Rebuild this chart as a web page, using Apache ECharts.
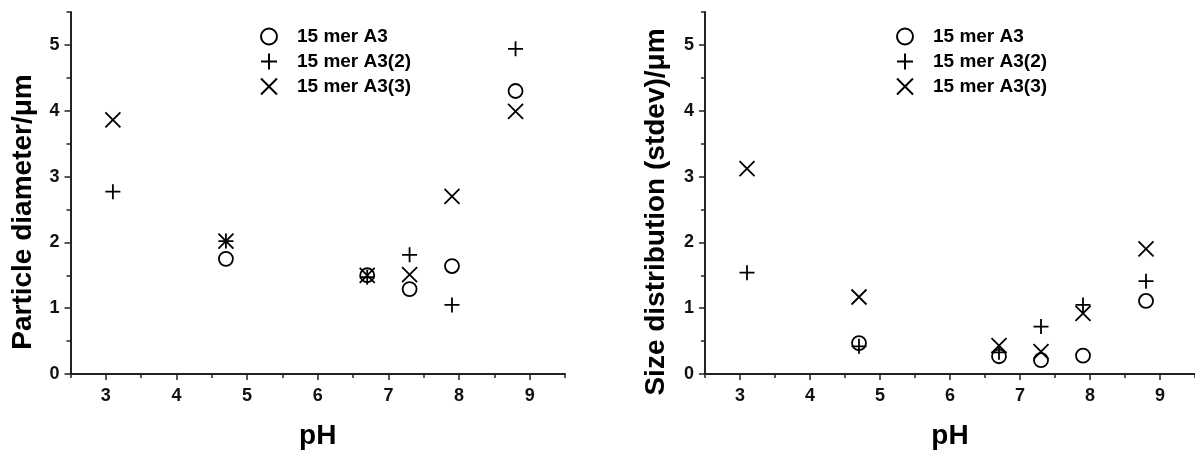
<!DOCTYPE html>
<html>
<head>
<meta charset="utf-8">
<script src="https://cdn.jsdelivr.net/npm/echarts@6/dist/echarts.min.js"></script>
<style>
html, body { margin: 0; padding: 0; background: #fff; }
#main { width: 1195px; height: 455px; }
</style>
</head>
<body>
<div id="main"></div>
<script>
var pH = [3.1, 4.7, 6.7, 7.3, 7.9, 8.8];
var seriesNames = ['15 mer A3', '15 mer A3(2)', '15 mer A3(3)'];

// particle diameter / um
var diamA3   = [null, 1.75, 1.50, 1.29, 1.64, 4.30];
var diamA3_2 = [2.77, 2.02, 1.47, 1.81, 1.05, 4.94];
var diamA3_3 = [3.86, 2.02, 1.50, 1.51, 2.70, 3.99];

// size distribution (stdev) / um
var sdA3   = [null, 0.47, 0.27, 0.21, 0.28, 1.11];
var sdA3_2 = [1.54, 0.42, 0.33, 0.72, 1.05, 1.41];
var sdA3_3 = [3.12, 1.17, 0.43, 0.34, 0.92, 1.90];

var xTicks = [3, 4, 5, 6, 7, 8, 9];
var xMinorTicks = [2.5, 3.5, 4.5, 5.5, 6.5, 7.5, 8.5, 9.5];
var yTicks = [0, 1, 2, 3, 4, 5];
var yMinorTicks = [0.5, 1.5, 2.5, 3.5, 4.5, 5.5];

var FONT = 'Liberation Sans, Arial, Helvetica, sans-serif';
var axisColor = '#222';
var symbols = ['circle', 'path://M0,50L100,50M50,0L50,100', 'path://M0,0L100,100M100,0L0,100'];
var symbolSizes = [14, 15, 15];

var myChart = echarts.init(document.getElementById('main'));

function pairs(ys) {
    var res = [];
    for (var i = 0; i < pH.length; i++) {
        if (ys[i] != null) res.push([pH[i], ys[i]]);
    }
    return res;
}

function xAxes(g) {
    return [{
        gridIndex: g, type: 'value', min: 2.5, max: 9.5, position: 'bottom',
        name: 'pH', nameLocation: 'middle', nameGap: 48,
        nameTextStyle: { fontFamily: FONT, fontWeight: 'bold', fontSize: 28, color: '#000' },
        axisLine: { show: true, onZero: false, lineStyle: { color: axisColor, width: 2 } },
        axisTick: { show: true, length: 6, customValues: xTicks, lineStyle: { color: axisColor, width: 1.5 } },
        axisLabel: { customValues: xTicks, margin: 13, fontFamily: FONT, fontWeight: 'bold', fontSize: 18, color: '#111' },
        splitLine: { show: false }
    }, {
        gridIndex: g, type: 'value', min: 2.5, max: 9.5, position: 'bottom',
        axisLine: { show: false },
        axisTick: { show: true, length: 4, customValues: xMinorTicks, lineStyle: { color: axisColor, width: 1.5 } },
        axisLabel: { show: false },
        splitLine: { show: false }
    }];
}

function yAxes(g) {
    return [{
        gridIndex: g, type: 'value', min: 0, max: 5.5, position: 'left',
        axisLine: { show: true, onZero: false, lineStyle: { color: axisColor, width: 2 } },
        axisTick: { show: true, length: 6, customValues: yTicks, lineStyle: { color: axisColor, width: 1.5 } },
        axisLabel: { customValues: yTicks, margin: 11, fontFamily: FONT, fontWeight: 'bold', fontSize: 18, color: '#111' },
        splitLine: { show: false }
    }, {
        gridIndex: g, type: 'value', min: 0, max: 5.5, position: 'left',
        axisLine: { show: false },
        axisTick: { show: true, length: 4, customValues: yMinorTicks, lineStyle: { color: axisColor, width: 1.5 } },
        axisLabel: { show: false },
        splitLine: { show: false }
    }];
}

function scatter(name, k, ys, axisIdx) {
    return {
        type: 'scatter', name: name,
        xAxisIndex: axisIdx, yAxisIndex: axisIdx,
        symbol: symbols[k], symbolSize: symbolSizes[k],
        itemStyle: { color: 'rgba(0,0,0,0)', borderColor: '#000', borderWidth: 1.8, opacity: 1 },
        emphasis: { disabled: true },
        data: pairs(ys)
    };
}

function legend(left) {
    return {
        orient: 'vertical', left: left, top: 22,
        itemWidth: 46, itemHeight: 16, itemGap: 6,
        symbolKeepAspect: true,
        selectedMode: false,
        textStyle: { fontFamily: FONT, fontWeight: 'bold', fontSize: 19, color: '#000' },
        data: seriesNames
    };
}

var titleStyle = { fontFamily: FONT, fontWeight: 'bold', fontSize: 28, fill: '#000', align: 'center', verticalAlign: 'middle' };

option = {
    backgroundColor: '#fff',
    animation: false,
    grid: [
        { left: 70.5, right: 630, top: 12, bottom: 78.3 },
        { left: 705, width: 494, top: 12, bottom: 78.3 }
    ],
    xAxis: xAxes(0).concat(xAxes(1)),
    yAxis: yAxes(0).concat(yAxes(1)),
    legend: [legend(255), legend(891)],
    graphic: [
        { type: 'text', x: 23, y: 212, rotation: Math.PI / 2, style: Object.assign({ text: 'Particle diameter/μm' }, titleStyle) },
        { type: 'text', x: 656, y: 212, rotation: Math.PI / 2, style: Object.assign({ text: 'Size distribution (stdev)/μm', fontSize: 29 }, titleStyle) }
    ],
    series: [
        scatter(seriesNames[0], 0, diamA3, 0),
        scatter(seriesNames[1], 1, diamA3_2, 0),
        scatter(seriesNames[2], 2, diamA3_3, 0),
        scatter(seriesNames[0], 0, sdA3, 2),
        scatter(seriesNames[1], 1, sdA3_2, 2),
        scatter(seriesNames[2], 2, sdA3_3, 2)
    ]
};
myChart.setOption(option);
</script>
</body>
</html>
